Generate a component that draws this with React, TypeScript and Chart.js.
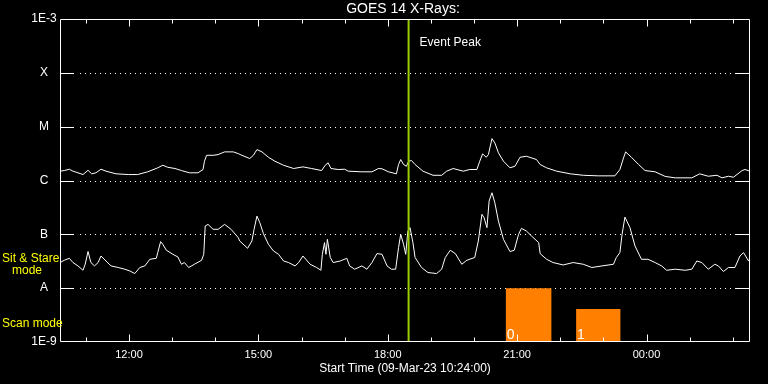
import React, { useEffect, useRef } from "react";
import { Chart, registerables } from "chart.js";

Chart.register(...registerables);

const startClock = "10:24";
const endClock = "02:24";
const titleText = "GOES 14 X-Rays:";
const footerText = "Start Time (09-Mar-23 10:24:00)";
const eventPeakTime = "18:29";
const eventPeakLabel = "Event Peak";

const yTickValues = [1e-9, 1e-8, 1e-7, 1e-6, 1e-5, 1e-4, 1e-3];
const yTickLabels = ["1E-9", "A", "B", "C", "M", "X", "1E-3"];

const hourTicks = ["11:00", "12:00", "13:00", "14:00", "15:00", "16:00", "17:00", "18:00", "19:00", "20:00", "21:00", "22:00", "23:00", "00:00", "01:00", "02:00"];
const labelTicks = ["12:00", "15:00", "18:00", "21:00", "00:00"];

const longTimes = ["10:24","10:30","10:37","10:42","10:49","10:56","11:03","11:08","11:14","11:21","11:28","11:42","11:59","12:12","12:26","12:40","12:47","12:54","13:04","13:13","13:24","13:36","13:43","13:45","13:48","13:57","14:04","14:13","14:25","14:32","14:37","14:48","14:53","14:58","15:05","15:14","15:23","15:35","15:49","16:02","16:14","16:28","16:33","16:37","16:41","16:51","17:00","17:05","17:24","17:38","17:47","17:52","18:01","18:12","18:15","18:18","18:22","18:26","18:29","18:33","18:38","18:49","19:03","19:15","19:22","19:31","19:45","19:54","20:04","20:08","20:12","20:17","20:20","20:25","20:29","20:34","20:41","20:50","20:57","21:04","21:13","21:27","21:32","21:41","21:55","22:14","22:32","22:53","23:16","23:23","23:28","23:31","23:39","23:49","23:58","00:12","00:26","00:40","01:03","01:14","01:26","01:38","01:45","01:54","02:01","02:13","02:17","02:24"];
const longFlux = [1.49e-6,1.53e-6,1.62e-6,1.49e-6,1.39e-6,1.29e-6,1.55e-6,1.33e-6,1.39e-6,1.62e-6,1.49e-6,1.33e-6,1.29e-6,1.29e-6,1.45e-6,1.72e-6,1.92e-6,1.76e-6,1.67e-6,1.53e-6,1.39e-6,1.39e-6,1.6e-6,2.28e-6,2.94e-6,2.94e-6,3.03e-6,3.4e-6,3.4e-6,3.16e-6,2.94e-6,2.56e-6,2.94e-6,3.75e-6,3.4e-6,2.7e-6,2.28e-6,1.92e-6,1.67e-6,1.79e-6,1.67e-6,1.53e-6,1.92e-6,2.13e-6,1.67e-6,1.6e-6,1.62e-6,1.49e-6,1.45e-6,1.45e-6,1.67e-6,1.65e-6,1.45e-6,1.33e-6,1.98e-6,2.45e-6,1.98e-6,1.84e-6,2.28e-6,2.35e-6,1.98e-6,1.49e-6,1.25e-6,1.25e-6,1.49e-6,1.67e-6,1.49e-6,1.6e-6,1.6e-6,2.28e-6,3.12e-6,2.7e-6,3.03e-6,6.0e-6,4.99e-6,3.26e-6,2.28e-6,1.72e-6,1.84e-6,2.7e-6,2.82e-6,2.45e-6,1.98e-6,1.72e-6,1.49e-6,1.33e-6,1.25e-6,1.22e-6,1.22e-6,1.6e-6,2.63e-6,3.4e-6,2.7e-6,1.98e-6,1.53e-6,1.45e-6,1.19e-6,1.12e-6,1.12e-6,1.33e-6,1.2e-6,1.25e-6,1.12e-6,1.2e-6,1.15e-6,1.53e-6,1.6e-6,1.49e-6];

const shortTimes = ["10:24","10:30","10:37","10:42","10:49","10:56","10:59","11:03","11:07","11:12","11:17","11:21","11:28","11:35","11:45","11:54","12:01","12:08","12:15","12:22","12:29","12:38","12:40","12:44","12:47","12:52","13:01","13:08","13:13","13:17","13:23","13:31","13:41","13:44","13:46","13:50","13:57","14:04","14:13","14:22","14:32","14:34","14:45","14:51","14:54","14:58","15:02","15:07","15:14","15:21","15:28","15:35","15:42","15:51","15:56","16:02","16:12","16:21","16:27","16:29","16:32","16:34","16:36","16:40","16:44","16:54","17:03","17:07","17:14","17:24","17:31","17:38","17:45","17:52","17:59","18:05","18:11","18:15","18:18","18:22","18:25","18:28","18:31","18:35","18:38","18:47","18:56","19:08","19:15","19:20","19:27","19:34","19:43","19:50","20:01","20:06","20:11","20:14","20:18","20:21","20:25","20:29","20:34","20:41","20:50","20:56","21:02","21:06","21:13","21:20","21:30","21:32","21:41","21:50","22:04","22:18","22:32","22:44","22:58","23:14","23:18","23:23","23:26","23:30","23:37","23:44","23:53","00:02","00:12","00:21","00:28","00:40","00:54","01:03","01:10","01:17","01:26","01:35","01:40","01:47","01:54","02:03","02:10","02:15","02:22","02:24"];
const shortFlux = [2.99e-8,3.3e-8,3.59e-8,2.99e-8,2.59e-8,2.15e-8,2.78e-8,4.79e-8,2.99e-8,2.59e-8,2.99e-8,3.96e-8,3.2e-8,2.59e-8,2.42e-8,2.25e-8,2.09e-8,1.87e-8,2.42e-8,2.59e-8,3.44e-8,3.59e-8,4.58e-8,7.33e-8,6.53e-8,5.06e-8,4.26e-8,3.8e-8,2.78e-8,2.99e-8,2.42e-8,2.78e-8,3.3e-8,4.26e-8,1.43e-7,1.53e-7,1.24e-7,1.24e-7,1.53e-7,1.24e-7,8.69e-8,7.52e-8,5.51e-8,7.52e-8,1.24e-7,2.18e-7,1.65e-7,1.03e-7,6.53e-8,4.91e-8,4.26e-8,3.2e-8,2.99e-8,2.59e-8,2.99e-8,3.96e-8,2.78e-8,2.42e-8,2.15e-8,4.26e-8,7.02e-8,4.26e-8,8.08e-8,3.71e-8,2.99e-8,3.2e-8,3.59e-8,2.59e-8,2.25e-8,2.59e-8,2.25e-8,2.99e-8,4.39e-8,4.26e-8,2.59e-8,2.25e-8,2.25e-8,5.67e-8,1.0e-7,6.53e-8,4.26e-8,1.15e-7,1.33e-7,7.02e-8,3.71e-8,2.42e-8,1.95e-8,1.87e-8,2.25e-8,3.71e-8,5.06e-8,4.39e-8,2.78e-8,3.3e-8,3.71e-8,7.52e-8,2.35e-7,2.04e-7,1.33e-7,4.14e-7,5.92e-7,3.86e-7,1.76e-7,8.08e-8,4.79e-8,5.06e-8,1.0e-7,1.29e-7,1.15e-7,9.3e-8,7.02e-8,4.39e-8,3.44e-8,2.99e-8,2.7e-8,2.99e-8,2.78e-8,2.42e-8,2.59e-8,2.78e-8,3.71e-8,4.58e-8,1.0e-7,2.09e-7,1.33e-7,6.07e-8,3.44e-8,3.44e-8,2.99e-8,2.59e-8,2.15e-8,2.25e-8,2.15e-8,2.25e-8,3.2e-8,2.99e-8,2.25e-8,2.78e-8,2.59e-8,2.04e-8,2.42e-8,2.42e-8,3.96e-8,4.58e-8,3.2e-8,3.59e-8];

const scanStart = ["20:44", "22:22"];
const scanEnd = ["21:48", "23:24"];
const scanLevel = [1e-8, 4.1e-9];
const scanLabels = ["0", "1"];

const FONT = "'Liberation Sans', Arial, sans-serif";

function toMin(s: string): number {
  const [h, m] = s.split(":").map(Number);
  const [h0, m0] = startClock.split(":").map(Number);
  let v = h * 60 + m - (h0 * 60 + m0);
  if (v < 0) v += 1440;
  return v;
}

const axesPlugin = {
  id: "goesAxes",
  beforeDatasetsDraw(chart: any) {
    const { ctx, chartArea, scales } = chart;
    const y = scales.y;
    const L = chartArea.left, R = chartArea.right;
    ctx.save();
    ctx.strokeStyle = "#ffffff";
    ctx.lineWidth = 1;
    for (let i = 1; i < yTickValues.length - 1; i++) {
      const py = Math.round(y.getPixelForValue(yTickValues[i])) + 0.5;
      ctx.setLineDash([1, 4]);
      ctx.beginPath();
      ctx.moveTo(L + 20, py);
      ctx.lineTo(R - 14, py);
      ctx.stroke();
      ctx.setLineDash([]);
      ctx.beginPath();
      ctx.moveTo(L, py);
      ctx.lineTo(L + 14, py);
      ctx.moveTo(R - 14, py);
      ctx.lineTo(R, py);
      ctx.stroke();
    }
    ctx.restore();
  },
  afterDatasetsDraw(chart: any) {
    const { ctx, chartArea, scales } = chart;
    const x = scales.x, y = scales.y;
    const L = Math.round(chartArea.left) + 0.5;
    const R = Math.round(chartArea.right) - 0.5;
    const T = Math.round(chartArea.top) + 0.5;
    const B = Math.round(chartArea.bottom) - 0.5;
    ctx.save();
    ctx.strokeStyle = "#ffffff";
    ctx.lineWidth = 1;
    ctx.beginPath();
    ctx.rect(L, T, R - L, B - T);
    ctx.stroke();
    ctx.beginPath();
    for (const t of hourTicks) {
      const px = Math.round(x.getPixelForValue(toMin(t))) + 0.5;
      const len = labelTicks.includes(t) ? 7 : 4;
      ctx.moveTo(px, T);
      ctx.lineTo(px, T + len);
      ctx.moveTo(px, B);
      ctx.lineTo(px, B - len);
    }
    ctx.stroke();
    ctx.fillStyle = "#ffffff";
    ctx.textBaseline = "middle";
    ctx.textAlign = "center";
    ctx.font = `11px ${FONT}`;
    for (const t of labelTicks) {
      ctx.fillText(t, x.getPixelForValue(toMin(t)), 355);
    }
    ctx.font = `12px ${FONT}`;
    for (let i = 0; i < yTickValues.length; i++) {
      ctx.fillText(yTickLabels[i], 44, y.getPixelForValue(yTickValues[i]));
    }
    ctx.fillText(footerText, 405, 369);
    ctx.font = `14px ${FONT}`;
    ctx.fillText(titleText, 403, 9);
    ctx.textAlign = "left";
    ctx.font = `12px ${FONT}`;
    ctx.fillText(eventPeakLabel, x.getPixelForValue(toMin(eventPeakTime)) + 11, 43);
    ctx.font = `14px ${FONT}`;
    ctx.textBaseline = "alphabetic";
    for (let i = 0; i < scanLabels.length; i++) {
      ctx.fillText(scanLabels[i], x.getPixelForValue(toMin(scanStart[i])) + 1, 339);
    }
    ctx.fillStyle = "#ffff00";
    ctx.textBaseline = "middle";
    ctx.font = `12px ${FONT}`;
    ctx.fillText("Sit & Stare", 2, 259);
    ctx.fillText("mode", 12, 271);
    ctx.fillText("Scan mode", 2, 324);
    ctx.restore();
  },
};

export default function App() {
  const ref = useRef<HTMLCanvasElement | null>(null);
  useEffect(() => {
    if (!ref.current) return;
    const longData = longTimes.map((t, i) => ({ x: toMin(t), y: longFlux[i] }));
    const shortData = shortTimes.map((t, i) => ({ x: toMin(t), y: shortFlux[i] }));
    const scanSets = scanStart.map((s, i) => ({
      type: "line" as const,
      data: [
        { x: toMin(s), y: yTickValues[0] },
        { x: toMin(s), y: scanLevel[i] },
        { x: toMin(scanEnd[i]), y: scanLevel[i] },
        { x: toMin(scanEnd[i]), y: yTickValues[0] },
      ],
      borderWidth: 0,
      borderColor: "rgba(0,0,0,0)",
      backgroundColor: "#ff8000",
      fill: "start" as const,
      pointRadius: 0,
      order: 3,
    }));
    const chart = new Chart(ref.current, {
      type: "line",
      data: {
        datasets: [
          ...scanSets,
          { data: longData, borderColor: "#ffffff", borderWidth: 1, pointRadius: 0, tension: 0, fill: false, order: 2 },
          { data: shortData, borderColor: "#ffffff", borderWidth: 1, pointRadius: 0, tension: 0, fill: false, order: 2 },
          {
            data: [
              { x: toMin(eventPeakTime), y: yTickValues[0] },
              { x: toMin(eventPeakTime), y: yTickValues[yTickValues.length - 1] },
            ],
            borderColor: "#99cc00",
            borderWidth: 2,
            pointRadius: 0,
            fill: false,
            order: 0,
          },
        ] as any,
      },
      options: {
        animation: false,
        responsive: false,
        devicePixelRatio: 1,
        layout: { padding: { left: 60, right: 18, top: 19, bottom: 42 } },
        plugins: { legend: { display: false }, tooltip: { enabled: false }, title: { display: false } },
        events: [],
        scales: {
          x: { type: "linear", min: toMin(startClock), max: toMin(endClock), display: false },
          y: { type: "logarithmic", min: yTickValues[0], max: yTickValues[yTickValues.length - 1], display: false },
        },
      },
      plugins: [axesPlugin],
    });
    return () => chart.destroy();
  }, []);
  return (
    <div style={{ position: "fixed", left: 0, top: 0, width: 768, height: 384, background: "#000" }}>
      <canvas ref={ref} width={768} height={384} style={{ display: "block" }} />
    </div>
  );
}
